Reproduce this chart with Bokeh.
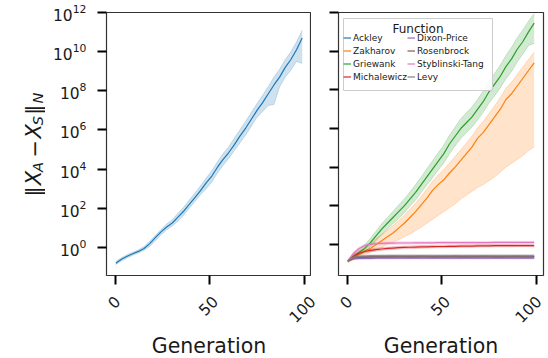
import numpy as np
from bokeh.plotting import figure
from bokeh.models import (Range1d, FixedTicker, Legend, LegendItem, CustomJSTickFormatter,
                          Label, Spacer, BoxAnnotation)
from bokeh.layouts import row, column
from bokeh.core.properties import value
from bokeh.embed import file_html
from bokeh.resources import INLINE

# ---------------- data (log10 of the norm) ----------------
gens = [0, 3, 6, 9, 12, 15, 18, 21, 24, 27,
        30, 33, 36, 39, 42, 45, 48, 51, 54, 57,
        60, 63, 66, 69, 72, 75, 78, 81, 84, 87,
        90, 93, 96, 99]

# left panel
left_mean = [-0.80, -0.60, -0.45, -0.32, -0.20, -0.05, 0.20, 0.50, 0.80, 1.05,
             1.25, 1.55, 1.85, 2.20, 2.55, 2.90, 3.30, 3.65, 4.10, 4.50,
             4.85, 5.25, 5.70, 6.10, 6.55, 7.00, 7.40, 7.85, 8.30, 8.70,
             9.20, 9.60, 10.10, 10.70]
left_lo = [-0.88, -0.68, -0.53, -0.40, -0.28, -0.14, 0.05, 0.35, 0.65, 0.90,
           1.10, 1.35, 1.65, 2.00, 2.35, 2.70, 3.00, 3.35, 3.80, 4.20,
           4.55, 4.95, 5.35, 5.75, 6.20, 6.65, 6.95, 7.25, 7.30, 8.20,
           8.70, 9.05, 9.50, 9.40]
left_hi = [-0.72, -0.52, -0.37, -0.24, -0.12, 0.05, 0.32, 0.62, 0.92, 1.20,
           1.42, 1.75, 2.05, 2.42, 2.78, 3.15, 3.55, 3.92, 4.38, 4.80,
           5.15, 5.60, 6.02, 6.45, 6.90, 7.35, 7.78, 8.22, 8.70, 9.10,
           9.60, 10.00, 10.50, 11.10]

# right panel
functions = ["Ackley", "Zakharov", "Griewank", "Michalewicz",
             "Dixon-Price", "Rosenbrock", "Styblinski-Tang", "Levy"]
colors = ["#1f77b4", "#ff7f0e", "#2ca02c", "#d62728",
          "#9467bd", "#8c564b", "#e377c2", "#7f7f7f"]

ackley_mean = [-0.85, -0.70, -0.66, -0.65, -0.64, -0.64, -0.64, -0.63, -0.64, -0.63,
               -0.63, -0.64, -0.63, -0.63, -0.63, -0.64, -0.63, -0.63, -0.63, -0.63,
               -0.64, -0.63, -0.63, -0.63, -0.63, -0.63, -0.63, -0.64, -0.63, -0.63,
               -0.63, -0.63, -0.63, -0.63]
ackley_lo = [-0.88, -0.74, -0.69, -0.68, -0.67, -0.67, -0.67, -0.66, -0.67, -0.66,
             -0.66, -0.67, -0.66, -0.66, -0.66, -0.67, -0.66, -0.66, -0.66, -0.66,
             -0.67, -0.66, -0.66, -0.66, -0.66, -0.66, -0.66, -0.67, -0.66, -0.66,
             -0.66, -0.66, -0.66, -0.66]
ackley_hi = [-0.82, -0.66, -0.63, -0.62, -0.61, -0.61, -0.61, -0.60, -0.61, -0.60,
             -0.60, -0.61, -0.60, -0.60, -0.60, -0.61, -0.60, -0.60, -0.60, -0.60,
             -0.61, -0.60, -0.60, -0.60, -0.60, -0.60, -0.60, -0.61, -0.60, -0.60,
             -0.60, -0.60, -0.60, -0.60]

zak_mean = [-0.85, -0.65, -0.50, -0.35, -0.20, 0.00, 0.20, 0.40, 0.60, 0.85,
            1.10, 1.40, 1.70, 2.05, 2.40, 2.80, 3.10, 3.35, 3.70, 4.00,
            4.35, 4.70, 5.05, 5.50, 5.80, 6.20, 6.60, 7.00, 7.50, 7.80,
            8.20, 8.60, 9.00, 9.40]
zak_lo = [-0.95, -0.78, -0.65, -0.52, -0.40, -0.28, -0.15, 0.00, 0.12, 0.25,
          0.40, 0.55, 0.72, 0.90, 1.10, 1.30, 1.50, 1.70, 1.90, 2.10,
          2.35, 2.55, 2.75, 2.95, 3.10, 3.30, 3.50, 3.75, 4.00, 4.20,
          4.40, 4.60, 4.85, 5.05]
zak_hi = [-0.78, -0.52, -0.32, -0.12, 0.08, 0.30, 0.52, 0.75, 0.98, 1.25,
          1.52, 1.82, 2.15, 2.50, 2.88, 3.28, 3.60, 3.88, 4.22, 4.55,
          4.90, 5.25, 5.62, 6.05, 6.38, 6.78, 7.18, 7.60, 8.08, 8.40,
          8.80, 9.20, 9.58, 9.95]

grie_mean = [-0.85, -0.60, -0.40, -0.20, 0.10, 0.45, 0.80, 1.10, 1.40, 1.70,
             2.00, 2.35, 2.70, 3.10, 3.50, 3.90, 4.30, 4.70, 5.20, 5.60,
             6.00, 6.30, 6.60, 7.00, 7.40, 7.90, 8.30, 8.70, 9.20, 9.60,
             10.10, 10.50, 11.00, 11.45]
grie_lo = [-0.92, -0.72, -0.55, -0.38, -0.12, 0.20, 0.50, 0.80, 1.08, 1.35,
           1.65, 1.98, 2.30, 2.70, 3.08, 3.45, 3.85, 4.22, 4.70, 5.10,
           5.48, 5.78, 6.08, 6.45, 6.85, 7.32, 7.70, 8.10, 8.58, 8.95,
           9.45, 9.85, 10.30, 10.40]
grie_hi = [-0.78, -0.48, -0.25, -0.02, 0.32, 0.70, 1.08, 1.40, 1.72, 2.05,
           2.36, 2.72, 3.10, 3.50, 3.92, 4.33, 4.75, 5.15, 5.65, 6.08,
           6.50, 6.82, 7.12, 7.52, 7.95, 8.45, 8.85, 9.28, 9.78, 10.20,
           10.70, 11.10, 11.55, 11.95]

mich_mean = [-0.85, -0.60, -0.45, -0.36, -0.30, -0.26, -0.23, -0.20, -0.18, -0.16,
             -0.15, -0.14, -0.13, -0.12, -0.12, -0.11, -0.10, -0.10, -0.09, -0.09,
             -0.08, -0.08, -0.08, -0.07, -0.07, -0.07, -0.06, -0.06, -0.06, -0.06,
             -0.05, -0.05, -0.05, -0.05]
mich_lo = [-0.90, -0.68, -0.53, -0.43, -0.37, -0.33, -0.30, -0.27, -0.25, -0.23,
           -0.22, -0.21, -0.20, -0.19, -0.18, -0.17, -0.16, -0.16, -0.15, -0.15,
           -0.14, -0.14, -0.14, -0.13, -0.13, -0.13, -0.12, -0.12, -0.12, -0.12,
           -0.11, -0.11, -0.11, -0.11]
mich_hi = [-0.80, -0.52, -0.37, -0.29, -0.23, -0.19, -0.16, -0.13, -0.11, -0.09,
           -0.08, -0.07, -0.06, -0.05, -0.05, -0.04, -0.03, -0.03, -0.02, -0.02,
           -0.01, -0.01, -0.01, 0.00, 0.00, 0.00, 0.01, 0.01, 0.01, 0.01,
           0.02, 0.02, 0.02, 0.02]

dix_mean = [-0.85, -0.74, -0.72, -0.71, -0.71, -0.70, -0.70, -0.70, -0.70, -0.70,
            -0.70, -0.70, -0.69, -0.70, -0.70, -0.70, -0.69, -0.70, -0.70, -0.70,
            -0.70, -0.69, -0.70, -0.70, -0.70, -0.70, -0.69, -0.70, -0.70, -0.70,
            -0.70, -0.69, -0.70, -0.70]
dix_lo = [-0.89, -0.79, -0.77, -0.76, -0.76, -0.75, -0.75, -0.75, -0.75, -0.75,
          -0.75, -0.75, -0.74, -0.75, -0.75, -0.75, -0.74, -0.75, -0.75, -0.75,
          -0.75, -0.74, -0.75, -0.75, -0.75, -0.75, -0.74, -0.75, -0.75, -0.75,
          -0.75, -0.74, -0.75, -0.75]
dix_hi = [-0.81, -0.69, -0.67, -0.66, -0.66, -0.65, -0.65, -0.65, -0.65, -0.65,
          -0.65, -0.65, -0.64, -0.65, -0.65, -0.65, -0.64, -0.65, -0.65, -0.65,
          -0.65, -0.64, -0.65, -0.65, -0.65, -0.65, -0.64, -0.65, -0.65, -0.65,
          -0.65, -0.64, -0.65, -0.65]

ros_mean = [-0.85, -0.68, -0.64, -0.63, -0.62, -0.62, -0.62, -0.62, -0.61, -0.62,
            -0.62, -0.62, -0.62, -0.61, -0.62, -0.62, -0.62, -0.62, -0.62, -0.61,
            -0.62, -0.62, -0.62, -0.62, -0.61, -0.62, -0.62, -0.62, -0.62, -0.62,
            -0.61, -0.62, -0.62, -0.62]
ros_lo = [-0.88, -0.72, -0.67, -0.66, -0.65, -0.65, -0.65, -0.65, -0.64, -0.65,
          -0.65, -0.65, -0.65, -0.64, -0.65, -0.65, -0.65, -0.65, -0.65, -0.64,
          -0.65, -0.65, -0.65, -0.65, -0.64, -0.65, -0.65, -0.65, -0.65, -0.65,
          -0.64, -0.65, -0.65, -0.65]
ros_hi = [-0.82, -0.64, -0.61, -0.60, -0.59, -0.59, -0.59, -0.59, -0.58, -0.59,
          -0.59, -0.59, -0.59, -0.58, -0.59, -0.59, -0.59, -0.59, -0.59, -0.58,
          -0.59, -0.59, -0.59, -0.59, -0.58, -0.59, -0.59, -0.59, -0.59, -0.59,
          -0.58, -0.59, -0.59, -0.59]

sty_mean = [-0.85, -0.45, -0.20, -0.05, 0.02, 0.05, 0.06, 0.07, 0.07, 0.08,
            0.08, 0.08, 0.09, 0.09, 0.09, 0.09, 0.10, 0.10, 0.10, 0.10,
            0.10, 0.10, 0.10, 0.10, 0.10, 0.10, 0.11, 0.11, 0.11, 0.11,
            0.11, 0.11, 0.11, 0.11]
sty_lo = [-0.90, -0.52, -0.27, -0.11, -0.04, -0.01, 0.00, 0.01, 0.01, 0.02,
          0.02, 0.02, 0.03, 0.03, 0.03, 0.03, 0.04, 0.04, 0.04, 0.04,
          0.04, 0.04, 0.04, 0.04, 0.04, 0.04, 0.05, 0.05, 0.05, 0.05,
          0.05, 0.05, 0.05, 0.05]
sty_hi = [-0.80, -0.38, -0.13, 0.01, 0.08, 0.11, 0.12, 0.13, 0.13, 0.14,
          0.14, 0.14, 0.15, 0.15, 0.15, 0.15, 0.16, 0.16, 0.16, 0.16,
          0.16, 0.16, 0.16, 0.16, 0.16, 0.16, 0.17, 0.17, 0.17, 0.17,
          0.17, 0.17, 0.17, 0.17]

levy_mean = [-0.85, -0.66, -0.61, -0.60, -0.59, -0.59, -0.59, -0.58, -0.58, -0.58,
             -0.58, -0.58, -0.58, -0.58, -0.58, -0.58, -0.58, -0.58, -0.58, -0.58,
             -0.58, -0.58, -0.58, -0.58, -0.58, -0.58, -0.58, -0.58, -0.58, -0.58,
             -0.58, -0.58, -0.58, -0.58]
levy_lo = [-0.89, -0.72, -0.67, -0.66, -0.65, -0.65, -0.65, -0.64, -0.64, -0.64,
           -0.64, -0.64, -0.64, -0.64, -0.64, -0.64, -0.64, -0.64, -0.64, -0.64,
           -0.64, -0.64, -0.64, -0.64, -0.64, -0.64, -0.64, -0.64, -0.64, -0.64,
           -0.64, -0.64, -0.64, -0.64]
levy_hi = [-0.81, -0.60, -0.55, -0.54, -0.53, -0.53, -0.53, -0.52, -0.52, -0.52,
           -0.52, -0.52, -0.52, -0.52, -0.52, -0.52, -0.52, -0.52, -0.52, -0.52,
           -0.52, -0.52, -0.52, -0.52, -0.52, -0.52, -0.52, -0.52, -0.52, -0.52,
           -0.52, -0.52, -0.52, -0.52]

right_series = [
    (ackley_mean, ackley_lo, ackley_hi),
    (zak_mean, zak_lo, zak_hi),
    (grie_mean, grie_lo, grie_hi),
    (mich_mean, mich_lo, mich_hi),
    (dix_mean, dix_lo, dix_hi),
    (ros_mean, ros_lo, ros_hi),
    (sty_mean, sty_lo, sty_hi),
    (levy_mean, levy_lo, levy_hi),
]

x_ticks = [0, 50, 100]
x_tick_labels = ["0", "50", "100"]
y_ticks = [1e0, 1e2, 1e4, 1e6, 1e8, 1e10, 1e12]
x_title = "Generation"
legend_title = "Function"
# y-axis title pieces: (text, is_subscript)
ylabel_parts = [("\u2016", False), ("X", False), ("A", True), ("\u2212", False),
                ("X", False), ("S", True), ("\u2016", False), ("N", True)]

# ---------------- layout constants (pixels) ----------------
FONT = "DejaVu Sans"
TXT = "#1a1a1a"
FRAME_W, FRAME_H = 205, 263
TOP, TICKB = 12, 12
ROW_H = TOP + FRAME_H + TICKB          # 287
STRIP_H = 358 - ROW_H
YLAB_W = 45
P1_LEFT = 106 - YLAB_W
P2_LEFT, P2_RIGHT = 27, 5
X_LO, X_HI = -4.95, 103.95
SCALE = FRAME_W / (X_HI - X_LO)
TICK_FS = 15.5
TITLE_FS = 20.5


def pw(a):
    return np.power(10.0, np.array(a))


def style(p):
    p.xgrid.visible = False
    p.ygrid.visible = False
    p.outline_line_color = "#333333"
    p.outline_line_width = 1.2
    for ax in (p.xaxis[0], p.yaxis[0]):
        ax.axis_line_color = None
        ax.major_tick_line_color = "black"
        ax.major_tick_line_width = 2
        ax.major_tick_out = 9
        ax.major_tick_in = 0
        ax.minor_tick_line_color = None
        ax.major_label_text_font = FONT
        ax.major_label_text_font_size = f"{TICK_FS}px"
        ax.major_label_text_color = TXT
        ax.major_label_standoff = 11
    xa = p.xaxis[0]
    xa.ticker = FixedTicker(ticks=x_ticks)
    xa.formatter = CustomJSTickFormatter(code="return ''")
    xa.major_label_text_font_size = "1px"
    xa.major_label_standoff = 0
    p.yaxis[0].ticker = FixedTicker(ticks=y_ticks, minor_ticks=[])


def band(p, x, m, lo, hi, c):
    p.varea(x=x, y1=pw(lo), y2=pw(hi), fill_color=c, fill_alpha=0.22)
    p.line(x, pw(lo), line_color=c, line_alpha=0.2, line_width=1)
    p.line(x, pw(hi), line_color=c, line_alpha=0.2, line_width=1)
    return p.line(x, pw(m), line_color=c, line_width=1.2)


def blank(w, h, xr, yr):
    f = figure(width=w, height=h, x_range=xr, y_range=yr, min_border=0,
               x_axis_location=None, y_axis_location=None,
               output_backend="svg", toolbar_location=None)
    f.xgrid.visible = False
    f.ygrid.visible = False
    f.outline_line_color = None
    return f


# ---- left panel
p1 = figure(x_range=Range1d(X_LO, X_HI), y_range=Range1d(10 ** -1.43, 1e12),
            y_axis_type="log", frame_width=FRAME_W, frame_height=FRAME_H,
            min_border_left=P1_LEFT, min_border_right=0, min_border_top=TOP,
            min_border_bottom=TICKB, output_backend="svg", toolbar_location=None)
style(p1)
band(p1, gens, left_mean, left_lo, left_hi, colors[0])

# ---- right panel
p2 = figure(x_range=Range1d(X_LO, X_HI), y_range=Range1d(10 ** -1.6, 1e12),
            y_axis_type="log", frame_width=FRAME_W, frame_height=FRAME_H,
            min_border_left=P2_LEFT, min_border_right=P2_RIGHT, min_border_top=TOP,
            min_border_bottom=TICKB, output_backend="svg", toolbar_location=None)
style(p2)
p2.yaxis[0].formatter = CustomJSTickFormatter(code="return ''")
p2.yaxis[0].major_label_text_font_size = "1px"

items = []
for name, c, (m, lo, hi) in zip(functions, colors, right_series):
    r = band(p2, gens, m, lo, hi, c)
    items.append(LegendItem(label=name, renderers=[r]))

# legend frame (drawn as a box so the centred title can sit on top of it)
p2.add_layout(BoxAnnotation(left=5, right=154, top=FRAME_H - 6, bottom=FRAME_H - 78,
                            left_units="screen", right_units="screen",
                            top_units="screen", bottom_units="screen",
                            fill_color="white", fill_alpha=0.85,
                            line_color="#cccccc", line_width=1, line_alpha=1))
p2.add_layout(Label(x=79.5, y=FRAME_H - 16, x_units="screen", y_units="screen",
                    text=legend_title, text_align="center", text_baseline="middle",
                    text_font=FONT, text_font_size="12px", text_color=TXT))
legend = Legend(items=items, location="top_left", orientation="vertical", nrows=4,
                title=" ", title_text_font=FONT, title_text_font_size="12px",
                title_standoff=0,
                label_text_font=FONT, label_text_font_size="9px", label_text_color=TXT,
                label_height=13, glyph_height=13, glyph_width=8, label_standoff=2,
                spacing=0, padding=4, margin=5,
                border_line_color=None, background_fill_alpha=0.0)
p2.add_layout(legend)

# ---- y-axis title (rotated pieces in a narrow strip)
ylab = blank(YLAB_W, ROW_H, Range1d(0, YLAB_W), Range1d(0, ROW_H))
em = {"\u2016": 0.6, "X": 0.685, "A": 0.684, "\u2212": 0.838, "S": 0.635, "N": 0.748}
groups = {}
pos = ROW_H - 201  # start of the title, measured upward
seen_bar = False
for txt, sub in ylabel_parts:
    fs = 14.5 if sub else 21.0
    style_kind = "normal" if txt in ("\u2016", "\u2212") else "italic"
    key = (fs, style_kind)
    base = 37.5 if sub else 33.0
    if txt == "\u2212":
        pos += 6
    if txt == "\u2016" and seen_bar:
        pos += 2
    if txt == "\u2016":
        seen_bar = True
    groups.setdefault(key, ([], [], []))
    groups[key][0].append(base)
    groups[key][1].append(pos)
    groups[key][2].append(txt)
    pos += em[txt] * fs
    if txt == "\u2212":
        pos += 3
for (fs, st), (xs, ys, ts) in groups.items():
    ylab.text(x=xs, y=ys, text=ts, angle=np.pi / 2, text_align="left",
              text_baseline="alphabetic", text_font=value(FONT),
              text_font_style=st, text_font_size=f"{fs}px", text_color=TXT)


# ---- x tick labels + x title strips
def xstrip(left_px, right_px, label_shifts):
    # strip spanning from left_px before the frame to right_px after it, same x scale
    w = FRAME_W + left_px + right_px
    xr = Range1d(X_LO - left_px / SCALE, X_HI + right_px / SCALE)
    f = blank(w, STRIP_H, xr, Range1d(0, STRIP_H))
    ys = []
    for lab in x_tick_labels:
        wt = len(lab) * 0.636 * TICK_FS
        half = (wt + 0.73 * TICK_FS) * 0.7071 / 2
        ys.append(STRIP_H - (294 - ROW_H) - half)
    f.text(x=x_ticks, y=ys, text=x_tick_labels, angle=np.pi / 4, text_align="center",
           text_baseline="middle", x_offset=label_shifts, text_font=value(FONT),
           text_font_size=f"{TICK_FS}px", text_color=TXT)
    f.text(x=[(X_LO + X_HI) / 2], y=[358 - 345.5], text=[x_title], text_align="center",
           text_baseline="middle", text_font=value(FONT),
           text_font_size=f"{TITLE_FS}px", text_color=TXT)
    return f


s1 = xstrip(10, 15, [-2, -2, -2])
s2 = xstrip(5, P2_RIGHT, [-2, -2, -8])
bottom = row(Spacer(width=106 - 10, height=STRIP_H), s1,
             Spacer(width=P2_LEFT - 15 - 5, height=STRIP_H), s2)
top = row(ylab, p1, p2)
layout = column(top, bottom)
open("out.html", "w").write(file_html(layout, INLINE))
